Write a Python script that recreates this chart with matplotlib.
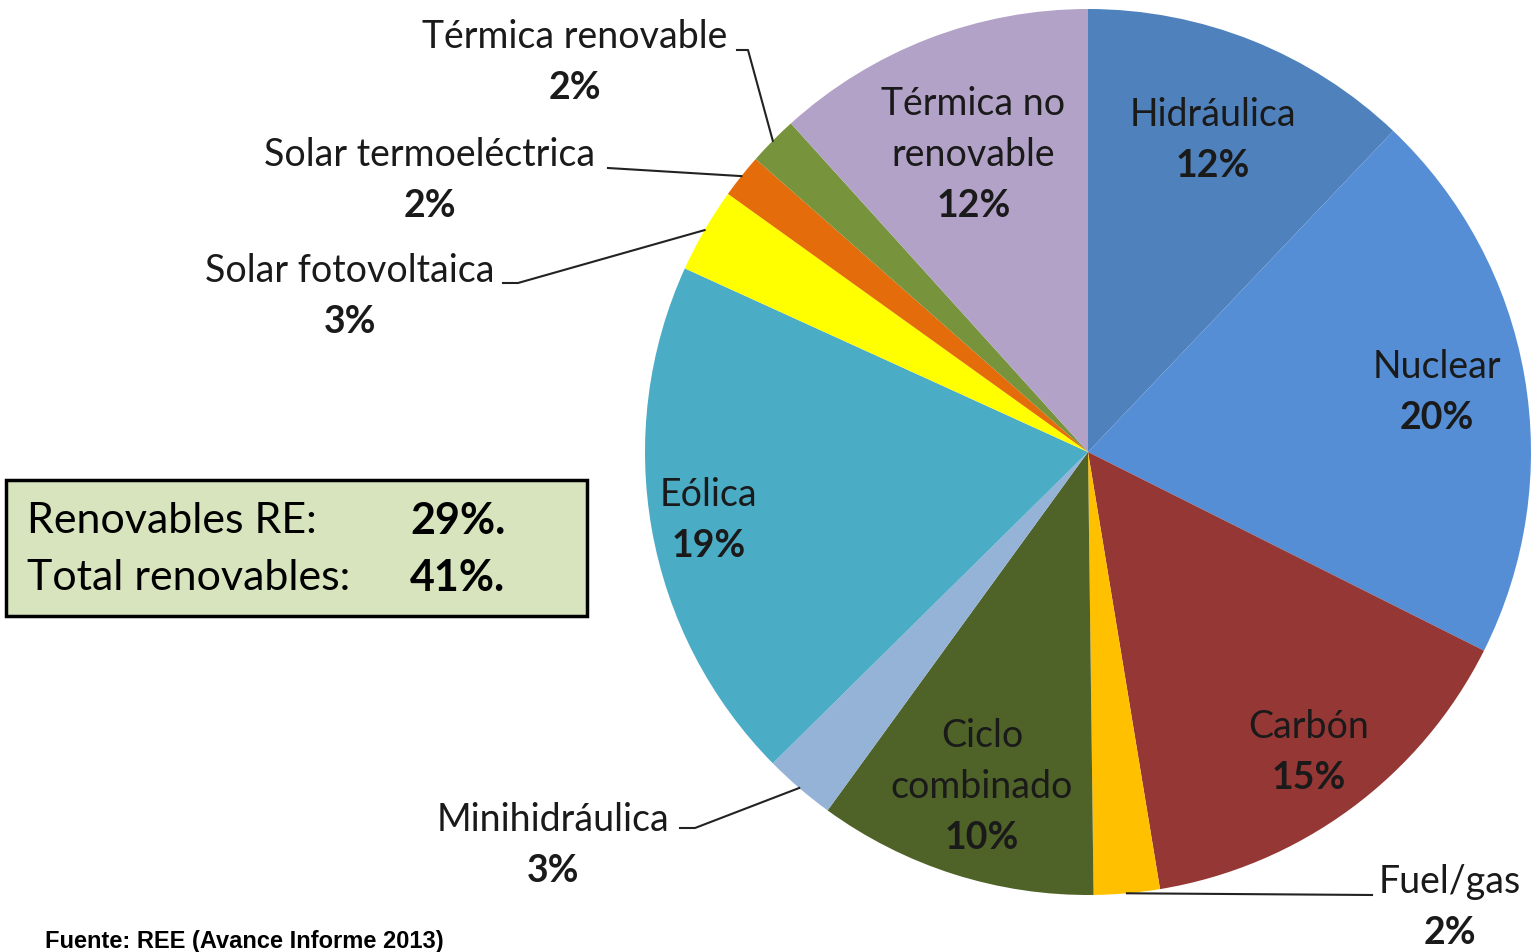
import numpy as np
import matplotlib.pyplot as plt

# slices clockwise from 12 o'clock (percent of generation)
names = ['Hidráulica', 'Nuclear', 'Carbón', 'Fuel/gas', 'Ciclo\ncombinado',
         'Minihidráulica', 'Eólica', 'Solar fotovoltaica', 'Solar termoeléctrica',
         'Térmica renovable', 'Térmica no\nrenovable']
values = [12.1, 20.3, 15.0, 2.4, 10.2, 2.6, 19.2, 3.1, 1.6, 1.8, 11.7]
colors = ['#4F81BD', '#558ED5', '#953735', '#FFC000', '#4F6228',
          '#95B3D7', '#4BACC6', '#FFFF00', '#E46C0A', '#77933C', '#B3A2C7']
pct_labels = ['12%', '20%', '15%', '2%', '10%', '3%', '19%', '3%', '2%', '2%', '12%']

box_names = ['Renovables RE:', 'Total renovables:']
box_values = ['29%.', '41%.']
source = 'Fuente: REE (Avance Informe 2013)'

FONT = 'Lato'
TXT = '#1a1a1a'
W, H = 1539, 953
cx, cy, R = 1088, 453, 443

fig = plt.figure(figsize=(W / 100, H / 100), dpi=100)
ax = fig.add_axes([0, 0, 1, 1])

wedges, _ = ax.pie(values, colors=colors, startangle=-90, counterclock=True,
                   center=(cx, cy), radius=R, wedgeprops=dict(linewidth=0))
ax.set_xlim(0, W)
ax.set_ylim(H, 0)
ax.set_aspect('equal')
ax.axis('off')

# label radius (fraction of R) for inside labels, None -> outside label
inside_r = [0.76, 0.80, 0.84, None, 0.79, None, 0.87, None, None, None, 0.72]
# outside label centres and leader-line elbows (pixel layout)
outside = {
    3: ((1450, 882), [(1372, 896)]),
    5: ((553, 820), [(680, 829), (695, 829)]),
    7: ((350, 271), [(503, 284), (518, 284)]),
    8: ((430, 155), [(608, 169)]),
    9: ((575, 37), [(737, 51), (748, 51)]),
}
LS = 51  # line spacing in px
fs = 27


def label(x, y_center, name, pct):
    lines = name.split('\n') + [pct]
    top = y_center - (len(lines) - 1) * LS / 2
    for k, ln in enumerate(lines):
        bold = k == len(lines) - 1
        ax.text(x, top + k * LS, ln, ha='center', va='center', fontsize=fs,
                family=FONT, weight='bold' if bold else 'normal', color=TXT)


cum = np.cumsum([0] + values)
for i, name in enumerate(names):
    mid = -90 + 3.6 * (cum[i] + cum[i + 1]) / 2
    th = np.deg2rad(mid)
    if inside_r[i] is not None:
        x = cx + inside_r[i] * R * np.cos(th)
        y = cy + inside_r[i] * R * np.sin(th)
        label(x, y, name, pct_labels[i])
    else:
        (tx, ty), elbow = outside[i]
        label(tx, ty + LS / 2, name, pct_labels[i])
        ex = cx + R * np.cos(th)
        ey = cy + R * np.sin(th)
        pts = elbow + [(ex, ey)]
        ax.plot([p[0] for p in pts], [p[1] for p in pts], color='#222222', lw=1.5)

# renewables box
ax.add_patch(plt.Rectangle((6, 481), 581, 136, facecolor='#D7E4BD',
                           edgecolor='black', lw=2.5))
for k in range(2):
    yy = 521 + k * 57
    ax.text(27, yy, box_names[k], ha='left', va='center', fontsize=31,
            family=FONT, color='black')
    ax.text(410, yy, box_values[k], ha='left', va='center', fontsize=31,
            family=FONT, weight='bold', color='black')

ax.text(45, 942, source, ha='left', va='center', fontsize=17,
        family='Liberation Sans', weight='bold', color='black')

plt.savefig('out.png', dpi=100)
